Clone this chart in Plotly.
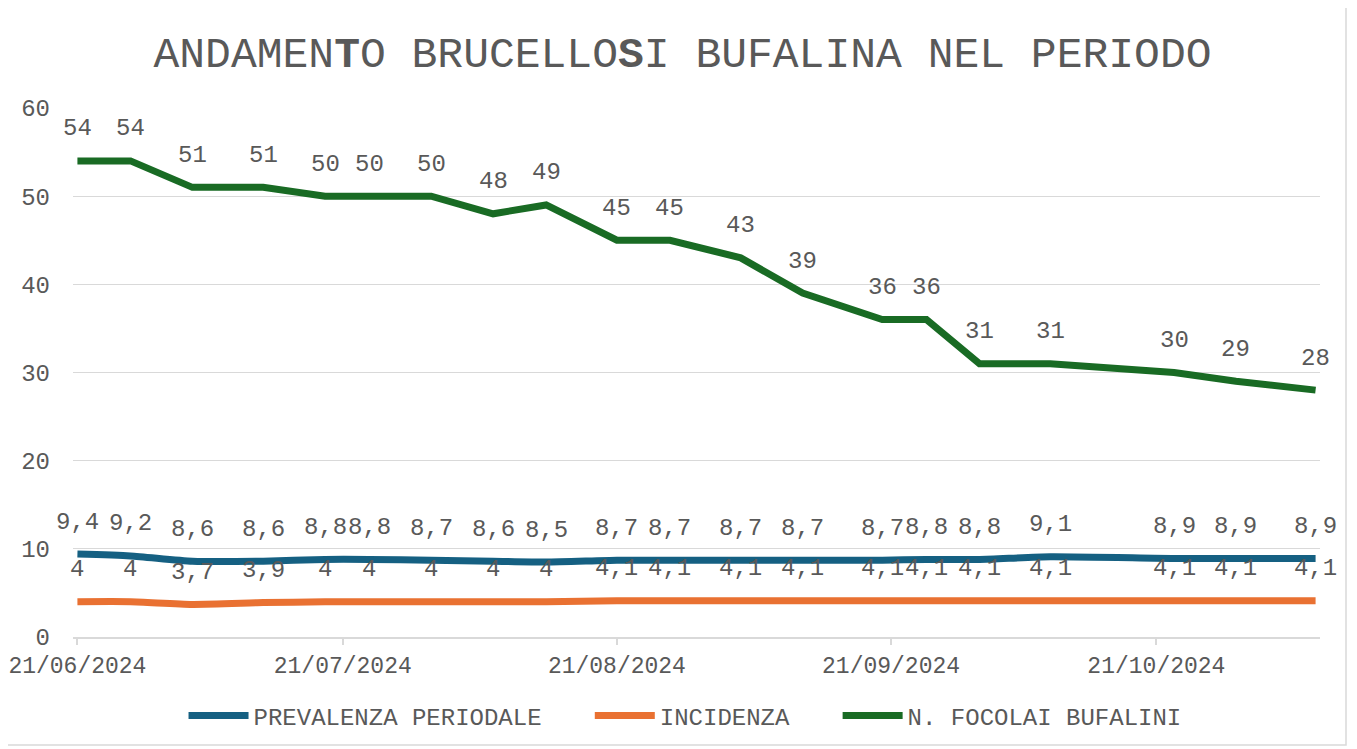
import plotly.graph_objects as go

dates = ["2024-06-21", "2024-06-27", "2024-07-04", "2024-07-12", "2024-07-19",
         "2024-07-24", "2024-07-31", "2024-08-07", "2024-08-13", "2024-08-21",
         "2024-08-27", "2024-09-04", "2024-09-11", "2024-09-20", "2024-09-25",
         "2024-10-01", "2024-10-09", "2024-10-23", "2024-10-30", "2024-11-08"]
prevalenza = [9.4, 9.2, 8.6, 8.6, 8.8, 8.8, 8.7, 8.6, 8.5, 8.7,
              8.7, 8.7, 8.7, 8.7, 8.8, 8.8, 9.1, 8.9, 8.9, 8.9]
incidenza = [4, 4, 3.7, 3.9, 4, 4, 4, 4, 4, 4.1,
             4.1, 4.1, 4.1, 4.1, 4.1, 4.1, 4.1, 4.1, 4.1, 4.1]
focolai = [54, 54, 51, 51, 50, 50, 50, 48, 49, 45,
           45, 43, 39, 36, 36, 31, 31, 30, 29, 28]
tick_dates = ["2024-06-21", "2024-07-21", "2024-08-21", "2024-09-21", "2024-10-21"]
tick_labels = ["21/06/2024", "21/07/2024", "21/08/2024", "21/09/2024", "21/10/2024"]
y_ticks = [0, 10, 20, 30, 40, 50, 60]

FONT = "Liberation Mono, Courier New, monospace"
GREY = "#595959"
NB = "\u00a0"

series = [
    ("PREVALENZA PERIODALE", prevalenza, "#156082", "spline"),
    ("INCIDENZA", incidenza, "#E97132", "spline"),
    ("N. FOCOLAI BUFALINI", focolai, "#196B24", "linear"),
]

def fmt(v):
    s = ("%g" % v)
    return s.replace(".", ",")

fig = go.Figure()
annotations = []
for i, (name, vals, color, shape) in enumerate(series):
    label = name + (NB * 3 if i < len(series) - 1 else "")
    fig.add_trace(go.Scatter(
        x=dates, y=vals, name=label, mode="lines",
        line=dict(color=color, width=7, shape=shape, smoothing=0.6),
    ))
    for d, v in zip(dates, vals):
        annotations.append(dict(
            x=d, y=v, text=fmt(v), showarrow=False, yshift=32,
            xanchor="center", yanchor="middle",
            font=dict(family=FONT, size=24, color=GREY),
        ))

# page body adds an 8px offset; figure is shrunk to keep the plot area in place
fig.update_layout(
    width=1349, height=741,
    margin=dict(l=65, r=37, t=100, b=112, autoexpand=False),
    paper_bgcolor="white", plot_bgcolor="white",
    title=dict(text="ANDAMEN<b>T</b>O BRUCELLO<b>S</b>I BUFALINA NEL PERIODO",
               x=0.5, xanchor="center", y=0.9406, yanchor="middle",
               font=dict(family=FONT, size=43, color=GREY)),
    font=dict(family=FONT, size=24, color=GREY),
    showlegend=True,
    legend=dict(orientation="h", x=0.4908, xanchor="center", y=-0.149, yanchor="middle",
                font=dict(family=FONT, size=24, color=GREY), itemwidth=60),
    annotations=annotations,
    shapes=[dict(type="rect", xref="paper", yref="paper",
                 x0=(7 - 73) / 1247, x1=(1346 - 73) / 1247,
                 y0=(637 - 745) / 529, y1=(637 - 3) / 529,
                 line=dict(color="#d9d9d9", width=1.5), layer="below")],
)
fig.update_xaxes(
    type="date", range=["2024-06-20 12:00", "2024-11-08 12:00"], automargin=False,
    tickvals=tick_dates, ticktext=tick_labels, ticklabeloverflow="allow",
    showgrid=False, showline=True, linecolor="#d9d9d9", linewidth=2,
    ticks="outside", ticklen=6, tickcolor="#d9d9d9", tickwidth=2,
    tickfont=dict(family=FONT, size=23, color=GREY),
)
fig.update_yaxes(
    range=[0, 60], tickvals=y_ticks, showgrid=True, gridcolor="#d9d9d9", gridwidth=1,
    zeroline=False, showline=False, ticks="", ticklabelstandoff=22, automargin=False,
    tickfont=dict(family=FONT, size=24, color=GREY),
)
fig.write_html("out.html")
